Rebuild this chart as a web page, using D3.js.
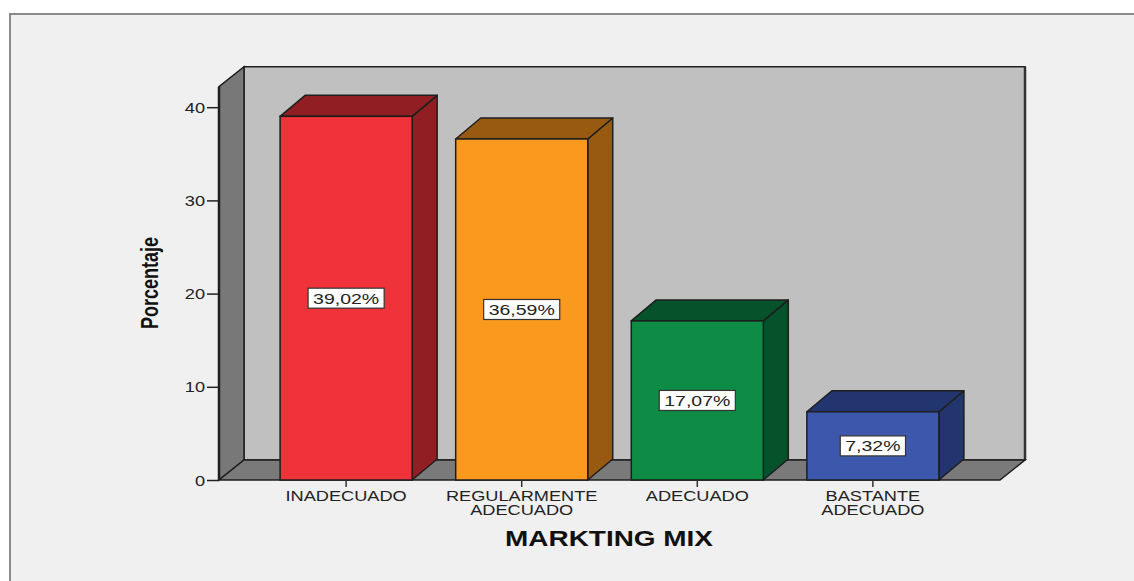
<!DOCTYPE html>
<html><head><meta charset="utf-8">
<script src="https://cdn.jsdelivr.net/npm/d3@7"></script>
<style>html,body{margin:0;padding:0;background:#fff;}svg{display:block;}</style>
</head><body>
<svg id="c" width="1134" height="581"></svg>
<script>
const categories = [["INADECUADO"], ["REGULARMENTE", "ADECUADO"], ["ADECUADO"], ["BASTANTE", "ADECUADO"]];
const values = [39.02, 36.59, 17.07, 7.32];
const valueLabels = ["39,02%", "36,59%", "17,07%", "7,32%"];
const yTicks = [0, 10, 20, 30, 40];
const frontColors = ["#f0323a", "#f99a1f", "#0e8b45", "#3c57ac"];
const sideColors = ["#911e22", "#985a10", "#06522a", "#22356e"];
const xTitle = "MARKTING MIX";
const yTitle = "Porcentaje";

const svg = d3.select("#c");
const SX = 1.3; // horizontal stretch of text
const font = "'Liberation Sans', Arial, sans-serif";

// background frame
svg.append("rect").attr("x", 10).attr("y", 14).attr("width", 1140).attr("height", 600)
  .attr("fill", "#f0f0f0").attr("stroke", "#8a8a8a").attr("stroke-width", 2);

const x0 = 219, x1 = 1000, yBase = 480, yTopVal = 42.2;
const dx = 25, dy = -20;
const y = d3.scaleLinear().domain([0, 40]).range([yBase, 107.2]);
const x = d3.scaleBand().domain(d3.range(categories.length)).range([x0, x1])
  .paddingInner(0.248).paddingOuter(0.348);
const yTop = y(yTopVal);
const line = d3.line();
const outline = "#1e1e1e";

// back wall
svg.append("path").attr("d", line([[x0+dx, yTop+dy],[x1+dx, yTop+dy],[x1+dx, yBase+dy],[x0+dx, yBase+dy]]) + "Z")
  .attr("fill", "#c0c0c0").attr("stroke", outline).attr("stroke-width", 1.5);
svg.append("line").attr("x1", x1+dx).attr("x2", x1+dx).attr("y1", yTop+dy).attr("y2", yBase+dy)
  .attr("stroke", "#333").attr("stroke-width", 2.5);
// left wall
svg.append("path").attr("d", line([[x0, yTop],[x0+dx, yTop+dy],[x0+dx, yBase+dy],[x0, yBase]]) + "Z")
  .attr("fill", "#787878").attr("stroke", outline).attr("stroke-width", 1.5);
// floor
svg.append("path").attr("d", line([[x0, yBase],[x1, yBase],[x1+dx, yBase+dy],[x0+dx, yBase+dy]]) + "Z")
  .attr("fill", "#7a7a7a").attr("stroke", outline).attr("stroke-width", 1.5);
// front axis line
svg.append("line").attr("x1", x0).attr("x2", x0).attr("y1", yTop).attr("y2", yBase)
  .attr("stroke", outline).attr("stroke-width", 2.5);

// y axis ticks
const yAxis = d3.axisLeft(y).tickValues(yTicks).tickSize(12).tickFormat(d3.format("d"));
const gy = svg.append("g").attr("transform", `translate(${x0},0)`).call(yAxis);
gy.select(".domain").remove();
gy.selectAll(".tick line").attr("stroke", "#222").attr("stroke-width", 1.5);
gy.selectAll(".tick text").attr("font-family", font).attr("font-size", 14).attr("fill", "#222")
  .attr("dy", "0.36em").attr("transform", `scale(${SX},1)`).attr("x", -14 / SX);

// bars
const bw = x.bandwidth();
const bdy = -21;
const bars = svg.append("g").selectAll("g").data(values).join("g");
bars.each(function(v, i) {
  const g = d3.select(this);
  const xl = x(i), xr = xl + bw, yv = y(v);
  g.append("path").attr("d", line([[xr, yv],[xr+dx, yv+bdy],[xr+dx, yBase+bdy],[xr, yBase]]) + "Z")
    .attr("fill", sideColors[i]).attr("stroke", outline).attr("stroke-width", 1.5).attr("stroke-linejoin", "round");
  g.append("path").attr("d", line([[xl, yv],[xr, yv],[xr+dx, yv+bdy],[xl+dx, yv+bdy]]) + "Z")
    .attr("fill", sideColors[i]).attr("stroke", outline).attr("stroke-width", 1.5).attr("stroke-linejoin", "round");
  g.append("rect").attr("x", xl).attr("y", yv).attr("width", bw).attr("height", yBase - yv)
    .attr("fill", frontColors[i]).attr("stroke", outline).attr("stroke-width", 1.5);
  // value label
  const cx = xl + bw / 2, cy = (yv + yBase) / 2;
  const lg = g.append("g").attr("transform", `translate(${cx},${cy})`);
  const box = lg.append("rect").attr("fill", "#fff").attr("stroke", "#333").attr("stroke-width", 1.2);
  const t = lg.append("text").attr("transform", `scale(${SX},1)`).attr("text-anchor", "middle")
    .attr("dy", "0.36em").attr("font-family", font).attr("font-size", 15).attr("fill", "#222")
    .text(valueLabels[i]);
  const w = t.node().getComputedTextLength() * SX + 10;
  box.attr("x", -w / 2).attr("y", -10).attr("width", w).attr("height", 20);
});

// category ticks and labels
categories.forEach((lines, i) => {
  const cx = x(i) + bw / 2;
  svg.append("line").attr("x1", cx).attr("x2", cx).attr("y1", yBase).attr("y2", yBase + 7)
    .attr("stroke", "#333").attr("stroke-width", 1.5);
  const t = svg.append("text").attr("transform", `translate(${cx},501) scale(${SX},1)`)
    .attr("text-anchor", "middle").attr("font-family", font).attr("font-size", 14).attr("fill", "#222");
  lines.forEach((s, k) => t.append("tspan").attr("x", 0).attr("y", k * 14).text(s));
});

// axis titles
svg.append("text").attr("transform", `translate(609,545.5) scale(${SX},1)`)
  .attr("text-anchor", "middle").attr("font-family", font).attr("font-weight", "bold")
  .attr("font-size", 21.5).attr("fill", "#111").text(xTitle);
svg.append("text").attr("transform", `translate(158,283) scale(${SX},1) rotate(-90)`)
  .attr("text-anchor", "middle").attr("font-family", font).attr("font-weight", "bold")
  .attr("font-size", 18).attr("fill", "#111").text(yTitle);
</script>
</body></html>
